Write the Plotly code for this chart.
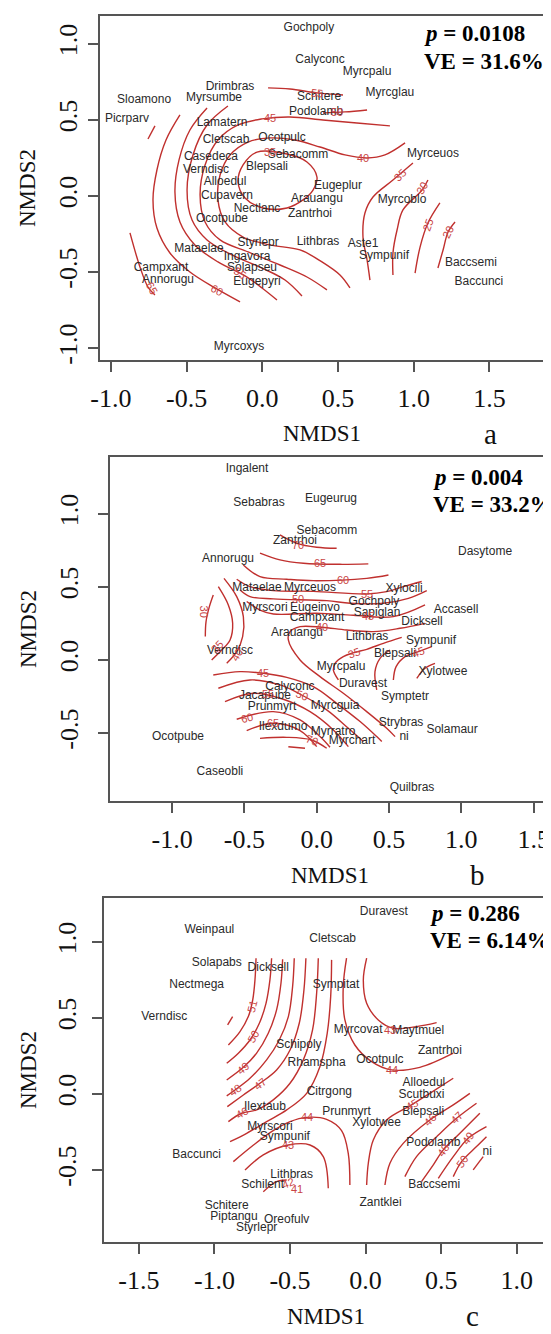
import plotly.graph_objects as go

# ---------------- Panel a data ----------------
A_NAMES = ["Gochpoly", "Calyconc", "Myrcpalu", "Drimbras", "Sloamono", "Myrsumbe", "Schitere", "Myrcglau",
           "Picrparv", "Podolamb", "Lamatern", "Cletscab", "Ocotpulc", "Casedeca", "Sebacomm", "Myrceuos",
           "Verndisc", "Blepsali", "Alloedul", "Eugeplur", "Cupavern", "Arauangu", "Myrcoblo", "Nectlanc",
           "Zantrhoi", "Ocotpube", "Styrlepr", "Lithbras", "Aste1", "Mataelae", "Sympunif", "Ingavora",
           "Baccsemi", "Campxant", "Solapseu", "Annorugu", "Eugepyri", "Baccunci", "Myrcoxys"]
A_X = [0.308, 0.381, 0.692, -0.213, -0.781, -0.319, 0.375, 0.843,
       -0.894, 0.355, -0.266, -0.240, 0.130, -0.339, 0.236, 1.127,
       -0.372, 0.031, -0.246, 0.500, -0.233, 0.361, 0.923, -0.035,
       0.315, -0.266, -0.028, 0.368, 0.665, -0.418, 0.804, -0.101,
       1.378, -0.669, -0.068, -0.623, -0.035, 1.431, -0.154]
A_Y = [1.105, 0.895, 0.816, 0.717, 0.632, 0.645, 0.651, 0.678,
       0.507, 0.553, 0.480, 0.368, 0.382, 0.257, 0.270, 0.276,
       0.171, 0.191, 0.092, 0.066, 0.000, -0.020, -0.026, -0.086,
       -0.118, -0.151, -0.309, -0.303, -0.316, -0.349, -0.395, -0.401,
       -0.441, -0.474, -0.474, -0.553, -0.566, -0.566, -0.993]
A_P = "0.0108"
A_VE = "VE = 31.6%"

# contour pieces: (level, xs, ys)
A_CONTOURS = [
    (65, [-0.874, -0.808, -0.755, -0.709], [-0.243, -0.467, -0.599, -0.651]),
    (65, [-0.755, -0.709], [0.375, 0.461]),
    (60, [-0.544, -0.636, -0.696, -0.722, -0.696, -0.610, -0.478, -0.312, -0.147],
         [0.533, 0.368, 0.171, -0.026, -0.211, -0.375, -0.500, -0.605, -0.697]),
    (55, [-0.365, -0.478, -0.550, -0.577, -0.544, -0.445, -0.293, -0.114, -0.002, 0.097],
         [0.579, 0.434, 0.237, 0.026, -0.171, -0.322, -0.434, -0.526, -0.605, -0.684]),
    (55, [0.038, 0.183, 0.361, 0.533], [0.711, 0.704, 0.678, 0.664]),
    (50, [-0.227, -0.365, -0.458, -0.497, -0.464, -0.365, -0.200, -0.002, 0.150, 0.262],
         [0.592, 0.467, 0.270, 0.039, -0.158, -0.289, -0.388, -0.474, -0.553, -0.658]),
    (50, [0.401, 0.546, 0.692], [0.546, 0.553, 0.566]),
    (45, [0.843, 0.625, 0.401, 0.183, -0.002, -0.160, -0.293, -0.378, -0.411, -0.378, -0.279, -0.094, 0.117, 0.295, 0.427],
         [0.461, 0.480, 0.500, 0.520, 0.507, 0.467, 0.368, 0.204, 0.007, -0.171, -0.289, -0.368, -0.454, -0.533, -0.618]),
    (40, [0.943, 0.810, 0.692, 0.546, 0.381, 0.216, 0.051, -0.094, -0.213, -0.279, -0.293, -0.246, -0.127, 0.051, 0.249, 0.394, 0.513, 0.579],
         [0.349, 0.270, 0.250, 0.270, 0.322, 0.368, 0.382, 0.355, 0.270, 0.138, -0.026, -0.171, -0.270, -0.322, -0.355, -0.434, -0.520, -0.605]),
    (35, [-0.035, 0.163, 0.295, 0.361, 0.335, 0.269, 0.163, 0.005, -0.114, -0.160, -0.127, -0.035],
         [0.289, 0.276, 0.224, 0.125, 0.039, -0.026, -0.079, -0.079, -0.013, 0.092, 0.204, 0.289]),
    (35, [0.995, 0.863, 0.731, 0.678, 0.665, 0.692, 0.711], [0.217, 0.105, -0.007, -0.112, -0.270, -0.421, -0.553]),
    (30, [1.094, 1.055, 0.929, 0.890, 0.863, 0.863], [0.105, 0.039, -0.092, -0.224, -0.375, -0.520]),
    (25, [1.173, 1.094, 1.042, 1.009], [-0.046, -0.178, -0.336, -0.507]),
    (20, [1.273, 1.227, 1.194, 1.160], [-0.171, -0.237, -0.355, -0.474]),
]
# contour labels: (text, x, y, angle)
A_CLABELS = [("65", -0.729, -0.605, 60), ("60", -0.299, -0.618, 30), ("55", -0.147, -0.507, 35),
             ("55", 0.361, 0.678, 5), ("50", 0.493, 0.550, 0), ("45", 0.051, 0.513, 0),
             ("40", 0.665, 0.250, 0), ("35", 0.051, 0.289, 0), ("35", 0.910, 0.138, -45),
             ("30", 1.055, 0.053, -60), ("25", 1.094, -0.191, -70), ("20", 1.227, -0.237, -65)]

# ---------------- Panel b data ----------------
B_NAMES = ["Ingalent", "Sebabras", "Eugeurug", "Sebacomm", "Zantrhoi", "Annorugu", "Dasytome", "Mataelae",
           "Myrceuos", "Xylocili", "Myrscori", "Eugeinvo", "Gochpoly", "Sapiglan", "Accasell", "Campxant",
           "Dicksell", "Arauangu", "Lithbras", "Sympunif", "Verndisc", "Blepsali", "Xylotwee", "Myrcpalu",
           "Duravest", "Calyconc", "Symptetr", "Jacapube", "Prunmyrt", "Myrcguia", "Strybras", "Solamaur",
           "Ilexdumo", "Ocotpube", "Myrratro", "ni", "Myrchart", "Caseobli", "Quilbras"]
B_X = [-0.482, -0.399, 0.099, 0.071, -0.150, -0.613, 1.164, -0.413,
       -0.046, 0.604, -0.358, -0.012, 0.396, 0.417, 0.963, 0.002,
       0.728, -0.136, 0.348, 0.791, -0.600, 0.541, 0.873, 0.168,
       0.320, -0.185, 0.611, -0.358, -0.309, 0.127, 0.583, 0.936,
       -0.233, -0.959, 0.113, 0.604, 0.244, -0.669, 0.659]
B_Y = [1.308, 1.075, 1.103, 0.884, 0.815, 0.692, 0.740, 0.493,
       0.493, 0.486, 0.356, 0.356, 0.397, 0.322, 0.342, 0.288,
       0.260, 0.185, 0.158, 0.130, 0.062, 0.041, -0.082, -0.048,
       -0.164, -0.185, -0.253, -0.247, -0.322, -0.315, -0.432, -0.479,
       -0.459, -0.527, -0.493, -0.527, -0.555, -0.767, -0.877]
B_P = "0.004"
B_VE = "VE = 33.2%"

B_CONTOURS = [
    (70, [-0.254, -0.138, 0.0, 0.138], [0.856, 0.799, 0.772, 0.765]),
    (65, [-0.392, -0.254, -0.092, 0.161, 0.357], [0.731, 0.685, 0.662, 0.655, 0.658]),
    (60, [-0.507, -0.392, -0.207, -0.023, 0.346, 0.496], [0.651, 0.571, 0.553, 0.543, 0.559, 0.582]),
    (55, [-0.553, -0.461, -0.300, -0.023, 0.346, 0.484, 0.599, 0.726], [0.553, 0.502, 0.475, 0.470, 0.452, 0.468, 0.502, 0.537]),
    (50, [-0.530, -0.461, -0.300, 0.069, 0.231, 0.461, 0.634, 0.761], [0.479, 0.434, 0.418, 0.406, 0.388, 0.388, 0.422, 0.475]),
    (45, [-0.484, -0.392, -0.300, 0.0, 0.254, 0.530, 0.749], [0.400, 0.342, 0.315, 0.320, 0.306, 0.297, 0.377]),
    (40, [0.749, 0.576, 0.392, 0.207, 0.035, -0.115, -0.184, -0.196, -0.115, 0.023, 0.184, 0.346, 0.484, 0.542],
         [0.251, 0.217, 0.194, 0.205, 0.224, 0.228, 0.194, 0.137, 0.0, -0.114, -0.228, -0.354, -0.468, -0.525]),
    (35, [0.588, 0.461, 0.346, 0.258, 0.184, 0.127, 0.115, 0.150], [0.155, 0.114, 0.073, 0.050, 0.023, -0.023, -0.068, -0.137]),
    (40, [0.415, 0.403, 0.438, 0.507], [-0.205, -0.080, 0.011, 0.068]),
    (45, [0.530, 0.549, 0.611, 0.703, 0.795], [-0.137, -0.046, 0.023, 0.057, 0.091]),
    (50, [0.692, 0.749, 0.818], [-0.126, -0.057, -0.023]),
    (30, [-0.715, -0.742, -0.765, -0.770], [0.445, 0.365, 0.263, 0.160]),
    (35, [-0.680, -0.611, -0.581, -0.599, -0.657, -0.726], [0.502, 0.377, 0.251, 0.137, 0.068, 0.0]),
    (40, [-0.641, -0.553, -0.507, -0.512, -0.553, -0.622], [0.559, 0.434, 0.297, 0.160, 0.057, -0.023]),
    (45, [-0.715, -0.530, -0.369, -0.207, -0.023, 0.138, 0.300, 0.415, 0.450],
         [-0.103, -0.080, -0.091, -0.119, -0.183, -0.297, -0.422, -0.525, -0.559]),
    (50, [-0.680, -0.461, -0.254, -0.104, 0.069, 0.219, 0.323], [-0.194, -0.137, -0.171, -0.240, -0.342, -0.468, -0.559]),
    (55, [-0.634, -0.438, -0.231, -0.046, 0.115, 0.219], [-0.285, -0.228, -0.269, -0.354, -0.479, -0.594]),
    (60, [-0.553, -0.300, -0.115, 0.023, 0.092], [-0.406, -0.354, -0.411, -0.525, -0.598]),
    (65, [-0.484, -0.300, -0.115, 0.0], [-0.484, -0.434, -0.484, -0.594]),
    (70, [-0.392, -0.207, -0.035, 0.069], [-0.537, -0.530, -0.548, -0.605]),
    (70, [-0.196, -0.081], [-0.594, -0.605]),
]
B_CLABELS = [("70", -0.127, 0.790, 0), ("65", 0.023, 0.662, 0), ("60", 0.184, 0.548, 0),
             ("55", 0.346, 0.455, 0), ("50", -0.127, 0.416, 0), ("45", 0.357, 0.300, 0),
             ("40", 0.035, 0.224, 0), ("35", 0.258, 0.050, -20), ("45", 0.703, 0.057, -20),
             ("30", -0.779, 0.331, 90), ("35", -0.692, 0.091, -45), ("40", -0.553, 0.034, -60),
             ("45", -0.369, -0.091, 0), ("50", -0.104, -0.240, 20), ("55", -0.334, -0.235, 0),
             ("60", -0.484, -0.400, -15), ("65", -0.300, -0.434, 0), ("70", -0.035, -0.548, 20)]

# ---------------- Panel c data ----------------
C_NAMES = ["Duravest", "Weinpaul", "Cletscab", "Solapabs", "Dicksell", "Nectmega", "Sympitat", "Verndisc",
           "Myrcovat", "Maytmuel", "Zantrhoi", "Schipoly", "Rhamspha", "Ocotpulc", "Alloedul", "Citrgong",
           "Scutbuxi", "Ilextaub", "Prunmyrt", "Blepsali", "Xylotwee", "Myrscori", "Sympunif", "Podolamb",
           "Baccunci", "ni", "Lithbras", "Schilent", "Baccsemi", "Zantklei", "Schitere", "Piptangu",
           "Oreofulv", "Styrlepr"]
C_X = [0.121, -1.034, -0.218, -0.985, -0.644, -1.118, -0.196, -1.332,
       -0.049, 0.348, 0.492, -0.441, -0.324, 0.095, 0.386, -0.240,
       0.370, -0.666, -0.126, 0.381, 0.073, -0.633, -0.534, 0.448,
       -1.118, 0.805, -0.489, -0.681, 0.454, 0.099, -0.919, -0.871,
       -0.522, -0.721]
C_Y = [1.200, 1.079, 1.018, 0.860, 0.827, 0.717, 0.717, 0.509,
       0.421, 0.417, 0.283, 0.322, 0.206, 0.224, 0.075, 0.011,
       -0.007, -0.088, -0.116, -0.116, -0.189, -0.215, -0.281, -0.320,
       -0.401, -0.384, -0.533, -0.599, -0.599, -0.719, -0.737, -0.811,
       -0.829, -0.884]
C_P = "0.286"
C_VE = "VE = 6.14%"

C_CONTOURS = [
    (52, [-0.913, -0.880], [0.454, 0.509]),
    (51, [-0.725, -0.732, -0.747, -0.776, -0.831, -0.908], [0.893, 0.750, 0.618, 0.509, 0.410, 0.322]),
    (50, [-0.622, -0.633, -0.659, -0.703, -0.765, -0.842, -0.919], [0.893, 0.750, 0.596, 0.465, 0.355, 0.268, 0.202]),
    (49, [-0.549, -0.560, -0.589, -0.644, -0.721, -0.809, -0.919], [0.886, 0.728, 0.553, 0.399, 0.268, 0.175, 0.092]),
    (48, [-0.472, -0.483, -0.511, -0.571, -0.655, -0.765, -0.864, -0.919], [0.893, 0.706, 0.509, 0.355, 0.224, 0.103, 0.026, -0.013]),
    (47, [-0.395, -0.408, -0.439, -0.500, -0.589, -0.699, -0.809, -0.915], [0.893, 0.684, 0.465, 0.289, 0.158, 0.070, -0.007, -0.083]),
    (46, [-0.313, -0.324, -0.351, -0.412, -0.500, -0.611, -0.721, -0.820, -0.908],
         [0.893, 0.662, 0.421, 0.224, 0.070, -0.039, -0.105, -0.127, -0.182]),
    (45, [-0.225, -0.231, -0.254, -0.302, -0.390, -0.522, -0.655, -0.787, -0.897],
         [0.882, 0.640, 0.399, 0.180, 0.004, -0.105, -0.182, -0.259, -0.314]),
    (44, [-0.875, -0.754, -0.622, -0.500, -0.390, -0.258, -0.159, -0.115, -0.104],
         [-0.445, -0.346, -0.248, -0.182, -0.154, -0.167, -0.241, -0.390, -0.599]),
    (43, [-0.798, -0.677, -0.511, -0.368, -0.280, -0.247], [-0.500, -0.401, -0.336, -0.336, -0.412, -0.621]),
    (42, [-0.677, -0.589, -0.522], [-0.643, -0.577, -0.566]),
    (44, [-0.126, -0.148, -0.137, -0.071, 0.040, 0.172, 0.359, 0.580], [0.893, 0.706, 0.487, 0.322, 0.213, 0.158, 0.175, 0.268]),
    (43, [0.007, -0.015, 0.007, 0.084, 0.183, 0.337, 0.470], [0.893, 0.750, 0.596, 0.487, 0.432, 0.443, 0.469]),
    (45, [0.007, 0.018, 0.051, 0.139, 0.304, 0.425, 0.580], [-0.599, -0.456, -0.303, -0.171, -0.072, 0.004, 0.103]),
    (46, [0.128, 0.161, 0.249, 0.425, 0.580, 0.690], [-0.599, -0.456, -0.325, -0.171, -0.072, 0.004]),
    (47, [0.260, 0.337, 0.470, 0.602, 0.734], [-0.544, -0.412, -0.281, -0.160, -0.061]),
    (48, [0.370, 0.448, 0.514, 0.624, 0.756], [-0.577, -0.467, -0.368, -0.259, -0.127]),
    (49, [0.481, 0.580, 0.679, 0.800], [-0.555, -0.412, -0.292, -0.215]),
    (50, [0.580, 0.635, 0.734, 0.800], [-0.544, -0.445, -0.346, -0.281]),
    (51, [0.712, 0.778], [-0.500, -0.412]),
]
C_CLABELS = [("51", -0.754, 0.575, -75), ("50", -0.747, 0.377, -60), ("49", -0.809, 0.169, -40),
             ("48", -0.864, 0.026, -35), ("47", -0.699, 0.066, -40), ("46", -0.820, -0.127, -30),
             ("44", -0.390, -0.154, 0), ("43", -0.511, -0.336, 0), ("42", -0.511, -0.588, -20),
             ("41", -0.456, -0.627, 0), ("44", 0.172, 0.158, 0), ("43", 0.161, 0.421, 0),
             ("45", 0.304, -0.072, -30), ("46", 0.425, -0.171, -45), ("47", 0.602, -0.160, -45),
             ("48", 0.514, -0.368, -55), ("49", 0.679, -0.292, -55), ("50", 0.635, -0.445, -55)]

# axis ticks
A_XTICKS = [-1.0, -0.5, 0.0, 0.5, 1.0, 1.5]
A_YTICKS = [-1.0, -0.5, 0.0, 0.5, 1.0]
B_XTICKS = [-1.0, -0.5, 0.0, 0.5, 1.0, 1.5]
B_YTICKS = [-0.5, 0.0, 0.5, 1.0]
C_XTICKS = [-1.5, -1.0, -0.5, 0.0, 0.5, 1.0]
C_YTICKS = [-0.5, 0.0, 0.5, 1.0]

# ---------------- figure ----------------
OFF = 8                      # default page body margin
W, H = 551 - OFF, 1334 - OFF
LINE_RED = "#c0302e"
LABEL_RED = "#c94545"
SERIF = "Liberation Serif, Times New Roman, serif"
SANS = "Liberation Sans, Arial, sans-serif"


def pxx(v):
    return (v - OFF) / W


def pxy(v):
    return 1 - (v - OFF) / H


panels = [
    dict(names=A_NAMES, x=A_X, y=A_Y, cont=A_CONTOURS, clab=A_CLABELS, p=A_P, ve=A_VE,
         xt=A_XTICKS, yt=A_YTICKS, box=(100, 543, 16, 360), xr=[-1.072, 1.854], yr=[-1.079, 1.184],
         pxy=(1.055, 1.072, 0.882), letter="a", letx=490, ystand=1),
    dict(names=B_NAMES, x=B_X, y=B_Y, cont=B_CONTOURS, clab=B_CLABELS, p=B_P, ve=B_VE,
         xt=B_XTICKS, yt=B_YTICKS, box=(110, 550, 457, 801), xr=[-1.429, 1.613], yr=[-0.966, 1.390],
         pxy=(0.790, 1.247, 1.068), letter="b", letx=477, ystand=10),
    dict(names=C_NAMES, x=C_X, y=C_Y, cont=C_CONTOURS, clab=C_CLABELS, p=C_P, ve=C_VE,
         xt=C_XTICKS, yt=C_YTICKS, box=(104, 548, 898, 1242), xr=[-1.731, 1.207], yr=[-0.974, 1.289],
         pxy=(0.414, 1.189, 1.009), letter="c", letx=472, ystand=6),
]

fig = go.Figure()
annotations = []
layout = {}

for i, P in enumerate(panels, start=1):
    sfx = "" if i == 1 else str(i)
    xa, ya = "x" + sfx, "y" + sfx
    l, r, t, b = P["box"]
    xdom = [pxx(l), min(pxx(r), 1.0)]
    ydom = [pxy(b), pxy(t)]
    for lev, xs, ys in P["cont"]:
        fig.add_trace(go.Scatter(x=xs, y=ys, mode="lines", xaxis=xa, yaxis=ya,
                                 line=dict(color=LINE_RED, width=1.4, shape="spline", smoothing=1.0),
                                 hoverinfo="skip", showlegend=False))
    fig.add_trace(go.Scatter(x=P["x"], y=P["y"], text=P["names"], mode="text", xaxis=xa, yaxis=ya,
                             textposition="middle center",
                             textfont=dict(family=SANS, size=12, color="#2a2a2a"),
                             showlegend=False))
    for txt, cx, cy, ang in P["clab"]:
        annotations.append(dict(x=cx, y=cy, xref=xa, yref=ya, text=txt, showarrow=False,
                                xanchor="center", yanchor="middle",
                                textangle=ang, font=dict(family=SANS, size=11, color=LABEL_RED)))
    px0, py1, py2 = P["pxy"]
    annotations.append(dict(x=px0, y=py1, xref=xa, yref=ya, xanchor="left", yanchor="middle",
                            showarrow=False, text="<b><i>p</i> = " + P["p"] + "</b>",
                            font=dict(family=SERIF, size=23, color="black")))
    annotations.append(dict(x=px0, y=py2, xref=xa, yref=ya, xanchor="left", yanchor="middle",
                            showarrow=False, text="<b>" + P["ve"] + "</b>",
                            font=dict(family=SERIF, size=23, color="black")))
    # axis titles and panel letter
    cx_px = (l + r) / 2
    cy_px = (t + b) / 2
    annotations.append(dict(x=pxx(cx_px), y=pxy(b + 74), xref="paper", yref="paper",
                            xanchor="center", yanchor="middle",
                            text="NMDS1", showarrow=False,
                            font=dict(family=SERIF, size=23, color="#111")))
    annotations.append(dict(x=pxx(28), y=pxy(cy_px), xref="paper", yref="paper",
                            xanchor="center", yanchor="middle",
                            text="NMDS2", showarrow=False, textangle=-90,
                            font=dict(family=SERIF, size=23, color="#111")))
    annotations.append(dict(x=pxx(P["letx"]), y=pxy(b + 74), xref="paper", yref="paper",
                            xanchor="center", yanchor="middle",
                            text=P["letter"], showarrow=False,
                            font=dict(family=SERIF, size=29, color="#111")))

    axis_common = dict(showline=True, mirror=True, linecolor="#555", linewidth=1.5,
                       ticks="outside", ticklen=10, tickwidth=1.5, tickcolor="#555",
                       showgrid=False, zeroline=False, automargin=False,
                       tickfont=dict(family=SERIF, size=26, color="#111"))
    layout["xaxis" + sfx] = dict(domain=xdom, range=P["xr"], anchor=ya,
                                 tickvals=P["xt"], ticktext=[f"{v:.1f}" for v in P["xt"]],
                                 ticklabelstandoff=4, **axis_common)
    layout["yaxis" + sfx] = dict(domain=ydom, range=P["yr"], anchor=xa,
                                 tickvals=P["yt"], ticktext=[f"{v:.1f}" for v in P["yt"]],
                                 tickangle=-90, ticklabelstandoff=P["ystand"], **axis_common)

fig.update_layout(width=W, height=H, margin=dict(l=0, r=0, t=0, b=0),
                  paper_bgcolor="white", plot_bgcolor="white",
                  annotations=annotations, showlegend=False, **layout)

fig.write_html("out.html")
